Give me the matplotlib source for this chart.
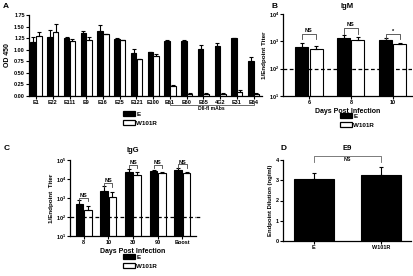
import numpy as np
import matplotlib
matplotlib.use("Agg")
import matplotlib.pyplot as plt
from matplotlib.patches import Patch
from matplotlib.ticker import FixedLocator, FixedFormatter, NullLocator
import matplotlib.transforms as mtrans

plt.rcParams['font.family'] = ['Liberation Sans', 'DejaVu Sans']
plt.rcParams['font.weight'] = 'bold'
plt.rcParams['mathtext.fontset'] = 'custom'
plt.rcParams['mathtext.rm'] = 'Liberation Sans:bold'
plt.rcParams['mathtext.bf'] = 'Liberation Sans:bold'
plt.rcParams['mathtext.it'] = 'Liberation Sans:bold'

# ---------------- data ----------------
a_labels = ["E1", "E22", "E111", "E9", "E16", "E25", "E121", "E100",
            "E61", "E60", "E65", "4G2", "E31", "E64"]
a_E = [1.17, 1.28, 1.26, 1.36, 1.40, 1.24, 0.93, 0.95, 1.19, 1.19, 1.02, 1.08, 1.25, 0.76]
a_E_err = [0.10, 0.14, 0.01, 0.05, 0.13, 0.01, 0.08, 0.01, 0.03, 0.03, 0.08, 0.06, 0.005, 0.09]
a_W = [1.29, 1.39, 1.18, 1.21, 1.34, 1.20, 0.80, 0.86, 0.22, 0.05, 0.05, 0.05, 0.08, 0.05]
a_W_err = [0.10, 0.17, 0.06, 0.06, 0.01, 0.01, 0.01, 0.05, 0.01, 0.01, 0.01, 0.01, 0.04, 0.01]
a_bracket_label = "DII-fl mAbs"

b_days = ["6", "8", "10"]
b_E = [615, 1320, 1150]
b_E_err = [255, 340, 140]
b_W = [540, 1100, 775]
b_W_err = [130, 350, 95]
b_sig = ["NS", "NS", "*"]

c_days = ["8", "10", "30", "90", "Boost"]
c_E = [470, 2350, 24000, 27500, 29000]
c_E_err = [280, 1950, 10000, 2500, 11000]
c_W = [235, 1070, 16500, 21000, 19500]
c_W_err = [125, 1080, 6500, 3500, 5000]
c_sig = ["NS", "NS", "NS", "NS", "NS"]

d_groups = ["E", "W101R"]
d_vals = [3.07, 3.27]
d_err = [0.30, 0.40]
d_sig = "NS"

legend_labels = ["E", "W101R"]
detection_limit = 100

# ---------------- figure ----------------
W, H = 414, 276
fig = plt.figure(figsize=(W / 100, H / 100), dpi=100)


def px(x0, y0, x1, y1):
    return [x0 / W, 1 - y1 / H, (x1 - x0) / W, (y1 - y0) / H]


def fy(y):
    return 1 - y / H


def style(ax):
    for s in ["top", "right"]:
        ax.spines[s].set_visible(False)
    for s in ["left", "bottom"]:
        ax.spines[s].set_linewidth(0.9)
    ax.tick_params(labelsize=4, width=0.8, length=2, pad=1)
    for lab in ax.get_xticklabels() + ax.get_yticklabels():
        lab.set_fontweight('bold')


def legend(x, y):
    handles = [Patch(facecolor='black', edgecolor='black', lw=0.9),
               Patch(facecolor='white', edgecolor='black', lw=0.9)]
    fig.legend(handles, legend_labels, loc='upper left',
               bbox_to_anchor=(x / W, fy(y)), bbox_transform=fig.transFigure,
               frameon=False, fontsize=4.5, handlelength=2.0, handleheight=0.8,
               labelspacing=0.55, handletextpad=0.15, borderpad=0, borderaxespad=0,
               prop={'weight': 'bold', 'size': 4.5})


def err_bars(ax, x, v, e):
    ax.errorbar(x, v, yerr=[np.zeros(len(e)), e], fmt='none', ecolor='black',
                elinewidth=0.8, capsize=1.5, capthick=0.8)


# ---------------- Panel A ----------------
axA = fig.add_axes(px(29, 15, 262, 96))
xa = np.arange(len(a_labels))
bw = 0.33
off = 0.17
axA.bar(xa - off, a_E, bw, color='black', edgecolor='black', lw=0.8)
axA.bar(xa + off, a_W, bw, color='white', edgecolor='black', lw=0.8)
err_bars(axA, xa - off, a_E, a_E_err)
err_bars(axA, xa + off, a_W, a_W_err)
axA.set_xlim(-0.42, len(a_labels) - 0.5)
axA.set_ylim(0, 1.75)
axA.set_yticks(np.arange(0, 1.76, 0.25))
axA.set_yticklabels([f"{v:.2f}" for v in np.arange(0, 1.76, 0.25)])
axA.set_xticks(xa)
axA.set_xticklabels(a_labels)
axA.set_ylabel("OD 450", fontsize=5, fontweight='bold', labelpad=2)
style(axA)
# DII-fl bracket
trA = mtrans.blended_transform_factory(axA.transData, axA.transAxes)
i0, i1 = a_labels.index("E61"), a_labels.index("E64")
yb = (96 - 105) / 81
yl = (96 - 101) / 81
axA.plot([xa[i0], xa[i0], xa[i1], xa[i1]], [yl, yb, yb, yl], color='#555555', lw=0.6,
         transform=trA, clip_on=False)
axA.text((xa[i0] + xa[i1]) / 2, yb - 0.015, a_bracket_label, transform=trA, ha='center',
         va='top', fontsize=3.6, fontweight='bold')
fig.text(3 / W, fy(6), "A", fontsize=6, fontweight='bold', va='center', ha='left')
legend(123, 111)

# ---------------- Panel B ----------------
axB = fig.add_axes(px(283, 14, 412, 96))
xb = np.arange(len(b_days))
bw2 = 0.31
axB.bar(xb - off, b_E, bw2, color='black', edgecolor='black', lw=0.8)
axB.bar(xb + off, b_W, bw2, color='white', edgecolor='black', lw=0.8)
err_bars(axB, xb - off, b_E, b_E_err)
err_bars(axB, xb + off, b_W, b_W_err)
axB.set_yscale('log')
axB.set_ylim(10, 1e4)
axB.set_xlim(-0.62, 2.46)
axB.axhline(detection_limit, color='black', ls=(0, (3, 2)), lw=0.9)
axB.yaxis.set_major_locator(FixedLocator([10, 100, 1000, 10000]))
axB.yaxis.set_major_formatter(FixedFormatter([r"$10^{1}$", r"$10^{2}$", r"$10^{3}$", r"$10^{4}$"]))
axB.yaxis.set_minor_locator(NullLocator())
axB.set_xticks(xb)
axB.set_xticklabels(b_days)
axB.set_xlabel("Days Post Infection", fontsize=5, fontweight='bold', labelpad=2)
axB.set_ylabel("1/Endpoint Titer", fontsize=4.5, fontweight='bold', labelpad=1)
style(axB)
b_line = [1900, 3100, 1780]
b_leg = [1260, 1900, 1260]
for i in range(len(b_days)):
    axB.plot([xb[i] - off, xb[i] - off, xb[i] + off, xb[i] + off],
             [b_leg[i], b_line[i], b_line[i], b_leg[i]], color='#444444', lw=0.6)
    axB.text(xb[i], b_line[i] * 1.05, b_sig[i], ha='center', va='bottom',
             fontsize=4, fontweight='bold')
axB.set_title("IgM", fontsize=5.5, fontweight='bold', pad=4)
fig.text(272 / W, fy(6), "B", fontsize=6, fontweight='bold', va='center', ha='left')
legend(340, 113)

# ---------------- Panel C ----------------
axC = fig.add_axes(px(70, 160, 196, 236))
xc = np.arange(len(c_days))
axC.bar(xc - off, c_E, bw2, color='black', edgecolor='black', lw=0.8)
axC.bar(xc + off, c_W, bw2, color='white', edgecolor='black', lw=0.8)
err_bars(axC, xc - off, c_E, c_E_err)
err_bars(axC, xc + off, c_W, c_W_err)
axC.set_yscale('log')
axC.set_ylim(10, 1e5)
axC.set_xlim(-0.55, 4.55)
axC.axhline(detection_limit, color='black', ls=(0, (3, 2)), lw=0.9)
axC.plot([4.55, 4.75], [detection_limit, detection_limit], color='black', ls=(0, (3, 2)),
         lw=0.9, clip_on=False)
axC.yaxis.set_major_locator(FixedLocator([10, 100, 1000, 10000, 100000]))
axC.yaxis.set_major_formatter(FixedFormatter([r"$10^{1}$", r"$10^{2}$", r"$10^{3}$",
                                              r"$10^{4}$", r"$10^{5}$"]))
axC.yaxis.set_minor_locator(NullLocator())
axC.set_xticks(xc)
axC.set_xticklabels(c_days)
axC.set_xlabel("Days Post Infection", fontsize=5, fontweight='bold', labelpad=2)
axC.set_ylabel("1/Endpoint  Titer", fontsize=4.5, fontweight='bold', labelpad=1)
style(axC)
c_line = [1000, 6200, 55000, 55000, 60000]
c_leg = [680, 3800, 37000, 37000, 40000]
for i in range(len(c_days)):
    axC.plot([xc[i] - off, xc[i] - off, xc[i] + off, xc[i] + off],
             [c_leg[i], c_line[i], c_line[i], c_leg[i]], color='#444444', lw=0.6,
             clip_on=False)
    axC.text(xc[i], c_line[i] * 0.95, c_sig[i], ha='center', va='bottom',
             fontsize=4, fontweight='bold')
axC.set_title("IgG", fontsize=5.5, fontweight='bold', pad=6)
fig.text(4 / W, fy(148), "C", fontsize=6, fontweight='bold', va='center', ha='left')
legend(123, 254)

# ---------------- Panel D ----------------
axD = fig.add_axes(px(283, 160, 411, 241))
xd = np.arange(len(d_groups))
axD.bar(xd, d_vals, 0.6, color='black', edgecolor='black', lw=0.8)
err_bars(axD, xd, d_vals, d_err)
axD.set_xlim(-0.46, 1.45)
axD.set_ylim(0, 4)
axD.set_yticks(range(0, 5))
axD.set_xticks(xd)
axD.set_xticklabels(d_groups)
axD.set_ylabel("Endpoint Dilution (ng/ml)", fontsize=4.3, fontweight='bold', labelpad=2)
style(axD)
axD.plot([xd[0], xd[0], xd[1], xd[1]], [3.9, 4.2, 4.2, 3.9], color='#666666', lw=0.6,
         clip_on=False)
axD.text(0.5, 4.13, d_sig, ha='center', va='top', fontsize=3.8, fontweight='bold')
axD.set_title("E9", fontsize=5.5, fontweight='bold', pad=7)
fig.text(281 / W, fy(148), "D", fontsize=6, fontweight='bold', va='center', ha='left')

fig.savefig("out.png", dpi=100)
